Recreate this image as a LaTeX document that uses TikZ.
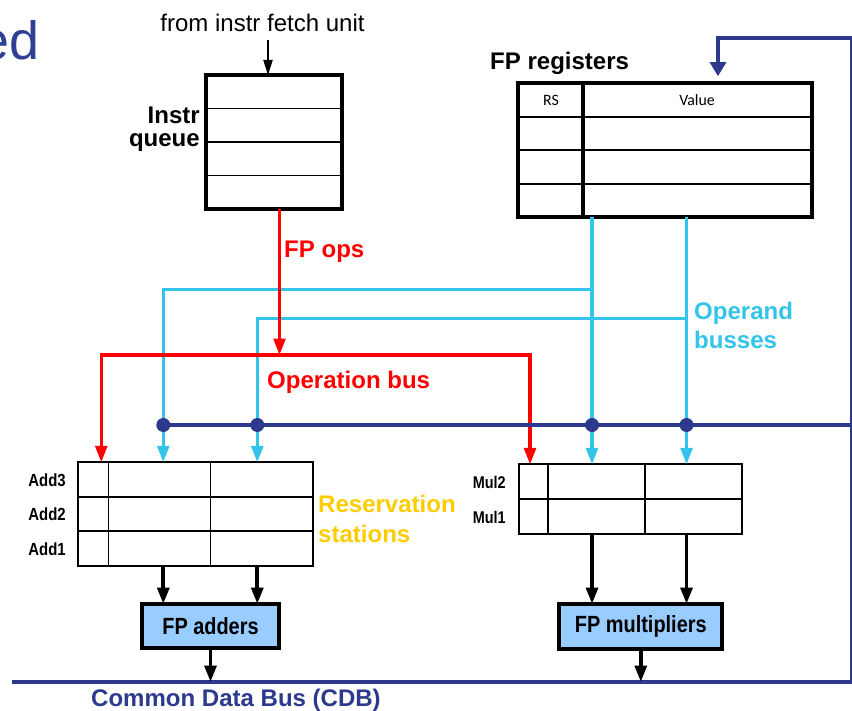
\documentclass[tikz,border=0pt]{standalone}
\usepackage{fontspec}
\setmainfont{Liberation Sans}
\newfontfamily\calibri{Carlito}
\newfontfamily\narrow[FakeStretch=0.85]{Liberation Sans}
\usetikzlibrary{calc}
\usetikzlibrary{arrows.meta}
\definecolor{navy}{RGB}{44,57,140}
\definecolor{titleblue}{RGB}{47,62,150}
\definecolor{operandc}{RGB}{51,196,234}
\definecolor{rsyellow}{RGB}{255,204,0}
\definecolor{unitfill}{RGB}{153,204,255}

\begin{document}
\begin{tikzpicture}[x=0.03cm, y=-0.03cm,
      qtable/.style ={rectangle, draw, line width=3.2pt, outer sep=0pt, inner sep=0pt},
      rstable/.style ={rectangle, draw, line width=1.6pt, outer sep=0pt, inner sep=0pt},
      rowline/.style ={line width=1.5pt},
      fpunit/.style ={rectangle, draw, line width=3.2pt, fill=unitfill, outer sep=0pt, inner sep=0pt, font=\narrow\bfseries\fontsize{20}{22}\selectfont},
      lbl/.style ={inner sep=0pt, font=\bfseries\fontsize{20.5}{24}\selectfont},
      rslbl/.style ={inner sep=0pt, anchor=east, font=\narrow\bfseries\fontsize{15}{16}\selectfont},
      fetchin/.style ={line width=1.2pt, -{Triangle[length=13pt,width=8pt]}},
      opline/.style ={draw=red, line width=2.8pt, -{Triangle[length=14pt,width=10pt]}},
      operand/.style ={draw=operandc, line width=2.8pt, -{Triangle[length=14pt,width=10pt]}},
      feed/.style ={draw=black, line width=3.2pt, -{Triangle[length=14pt,width=10pt]}},
      bus/.style ={draw=navy, line width=3.8pt}
    ]
    \useasboundingbox (0,0) rectangle (852,711);

    \node [anchor=base east, inner sep=0pt, text=titleblue, font=\fontsize{46}{50}\selectfont] (title) at (40,60) {ed} ;
    \node [inner sep=0pt, font=\fontsize{20.5}{24}\selectfont] (fetch) at (262.5,23) {from instr fetch unit} ;
    \node [qtable, minimum width=4.07cm, minimum height=4.02cm] (iq) at (273.8,142) {} ;
    \node [lbl, anchor=east, align=right, font=\bfseries\fontsize{20.5}{20}\selectfont] (iqname) at (200,129) {Instr\\queue} ;
    \node [qtable, minimum width=8.82cm, minimum height=4.02cm] (fpr) at (665.3,150.3) {} ;
    \node [lbl, anchor=base west] (fprname) at (490,70) {FP registers} ;
    \node [inner sep=0pt, font=\calibri\fontsize{13.5}{14}\selectfont] (rshead) at (551,100) {RS} ;
    \node [inner sep=0pt, font=\calibri\fontsize{13.5}{14}\selectfont] (valhead) at (697,100) {Value} ;

    \node [rstable, minimum width=7.05cm, minimum height=3.1cm] (addrs) at (195.8,514) {} ;
    \node [rstable, minimum width=6.7cm, minimum height=2.09cm] (mulrs) at (630.7,499.2) {} ;
    \node [rslbl] (add3) at (66,480.5) {Add3} ;
    \node [rslbl] (add2) at (66,514.3) {Add2} ;
    \node [rslbl] (add1) at (66,549) {Add1} ;
    \node [rslbl, font=\narrow\bfseries\fontsize{14.5}{16}\selectfont] (mul2) at (506,482.5) {Mul2} ;
    \node [rslbl, font=\narrow\bfseries\fontsize{14.5}{16}\selectfont] (mul1) at (506,517) {Mul1} ;
    \node [fpunit, minimum width=4.13cm, minimum height=1.32cm] (addunit) at (210.5,626) {FP adders} ;
    \node [fpunit, minimum width=4.89cm, minimum height=1.35cm] (mulunit) at (640.8,626.5) {FP multipliers} ;

    \foreach \f in {0.25,0.5,0.75} {
      \draw [rowline] ($(iq.north west)!\f!(iq.south west)$) -- ($(iq.north east)!\f!(iq.south east)$) ;
      \draw [rowline] ($(fpr.north west)!\f!(fpr.south west)$) -- ($(fpr.north east)!\f!(fpr.south east)$) ;
    }
    \draw [line width=3.2pt] ($(fpr.north west)!0.221!(fpr.north east)$) -- ($(fpr.south west)!0.221!(fpr.south east)$) ;
    \foreach \f in {0.333,0.667}
      \draw [rowline] ($(addrs.north west)!\f!(addrs.south west)$) -- ($(addrs.north east)!\f!(addrs.south east)$) ;
    \foreach \f in {0.128,0.563}
      \draw [rowline] ($(addrs.north west)!\f!(addrs.north east)$) -- ($(addrs.south west)!\f!(addrs.south east)$) ;
    \draw [rowline] (mulrs.west) -- (mulrs.east) ;
    \foreach \f in {0.129,0.564}
      \draw [rowline] ($(mulrs.north west)!\f!(mulrs.north east)$) -- ($(mulrs.south west)!\f!(mulrs.south east)$) ;

    \coordinate (fetchend) at ($(fetch.south)+(5.5,0)$) ;
    \coordinate (addop) at ($(addrs.north west)+(23,0)$) ;
    \coordinate (addj) at ($(addrs.north west)+(85,0)$) ;
    \coordinate (addk) at ($(addrs.north west)+(179,0)$) ;
    \coordinate (mulop) at ($(mulrs.north west)+(11,0)$) ;
    \coordinate (mulj) at ($(mulrs.north west)+(73,0)$) ;
    \coordinate (mulk) at ($(mulrs.north west)+(167.5,0)$) ;
    \coordinate (opjoin) at (279.5,355) ;
    \coordinate (jbus) at (592,289.3) ;
    \coordinate (kbus) at (686.5,318.3) ;
    \coordinate (busl) at (160,425) ;
    \coordinate (busr) at (860,425) ;
    \coordinate (wbk) at (718,38) ;
    \coordinate (corner) at (852,38) ;
    \coordinate (cdbl) at (12,682) ;
    \coordinate (cdbr) at (852,682) ;

    \draw [fetchin, shorten <=6.8pt] (fetchend) -- (fetchend |- iq.north) ;
    \draw [operand] (fpr.south -| mulj) -- (mulj) ;
    \draw [operand] (fpr.south -| mulk) -- (mulk) ;
    \draw [operand] (jbus) -| (addj) ;
    \draw [operand] (kbus) -| (addk) ;
    \draw [opline] (iq.south -| opjoin) -- (opjoin) ;
    \draw [opline] (opjoin) -| (addop) ;
    \draw [opline] (opjoin) -| (mulop) ;
    \draw [bus] (busl) -- (busr) ;
    \foreach \p in {addj,addk,mulj,mulk}
      \fill [navy] (\p |- busl) circle [radius=0.21cm] ;
    \draw [bus, -{Triangle[length=12pt,width=13.5pt]}, shorten >=6pt] (cdbl) -- (cdbr) -- (corner) -- (wbk) -- (wbk |- fpr.north) ;
    \draw [feed] (addj |- addrs.south) -- (addj |- addunit.north) ;
    \draw [feed] (addk |- addrs.south) -- (addk |- addunit.north) ;
    \draw [feed] (mulj |- mulrs.south) -- (mulj |- mulunit.north) ;
    \draw [feed] (mulk |- mulrs.south) -- (mulk |- mulunit.north) ;
    \draw [feed] (addunit.south) -- (addunit.south |- cdbl) ;
    \draw [feed] (mulunit.south) -- (mulunit.south |- cdbl) ;

    \node [lbl, text=red, anchor=base west] (fpops) at (284,257) {FP ops} ;
    \node [lbl, text=red, anchor=base west] (opbus) at (267,388) {Operation bus} ;
    \node [lbl, text=operandc, anchor=west, align=left, font=\bfseries\fontsize{20.5}{24.8}\selectfont] (operandname) at (694,325) {Operand\\busses} ;
    \node [lbl, text=rsyellow, anchor=west, align=left, font=\bfseries\fontsize{20.5}{25.6}\selectfont] (rsname) at (318,519) {Reservation\\stations} ;
    \node [lbl, text=navy] (cdbname) at (236,700) {Common Data Bus (CDB)} ;
  \end{tikzpicture}
\end{document}
